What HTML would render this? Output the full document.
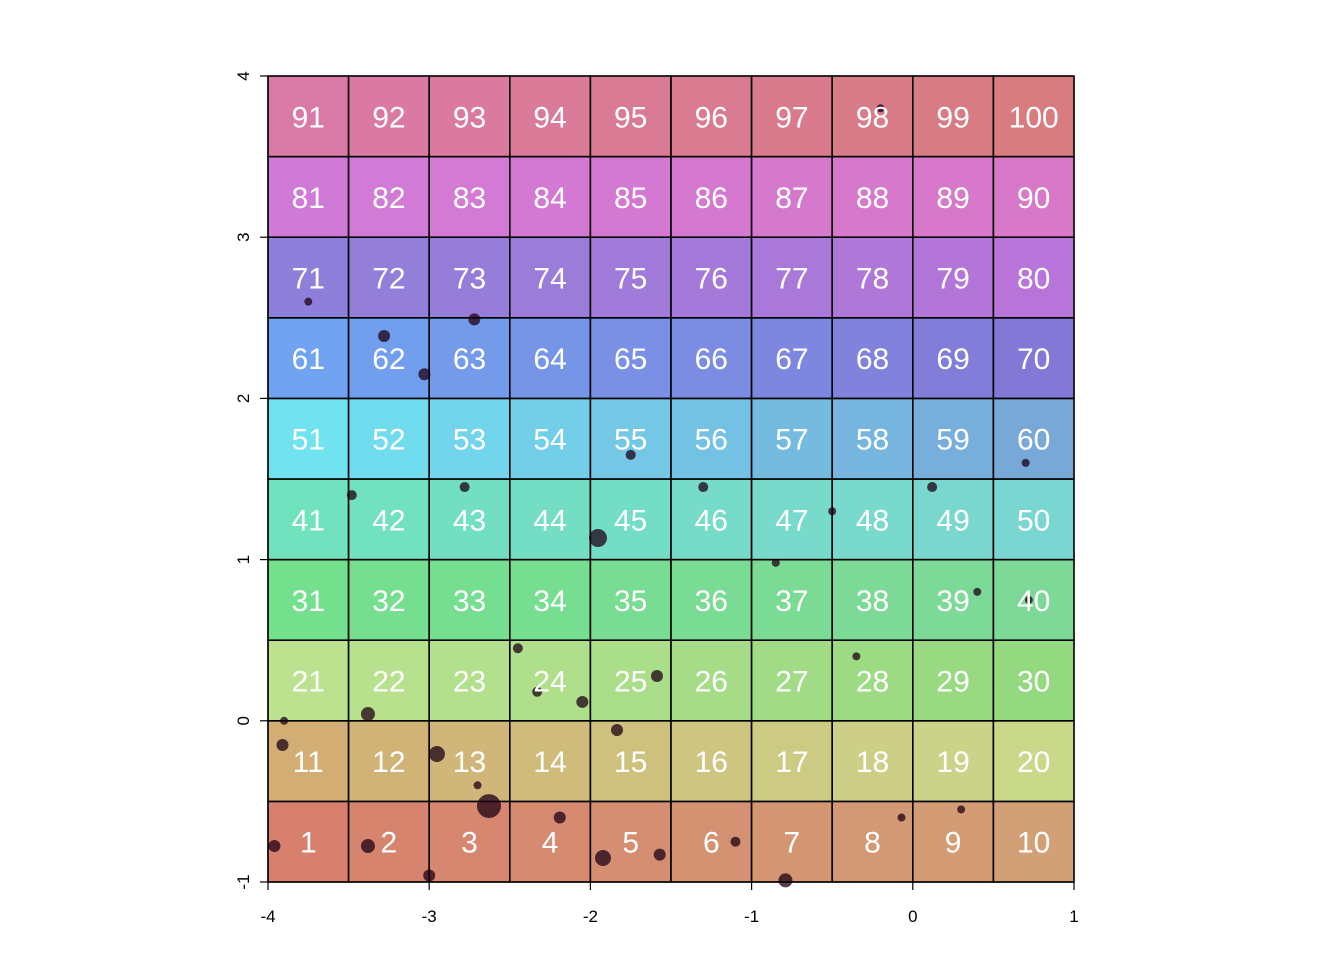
<!DOCTYPE html>
<html><head><meta charset="utf-8"><style>
body{margin:0;background:#fff;}
svg{display:block;font-family:"Liberation Sans",sans-serif;}
</style></head><body>
<svg id="chart" width="1344" height="960" viewBox="0 0 1344 960"></svg>
<script>
const rowLeft=["#d8806e","#d2ae74","#bce290","#74e08e","#70e2be","#70e2f0","#70a4f0","#8e80da","#d07ad8","#da7aa6"];
const rowRight=["#d2a076","#cad88a","#94d880","#7ed898","#7ad6d0","#78a8d8","#8478d6","#b874d8","#d878c8","#d87c80"];
const cellLabels=[];for(let i=1;i<=100;i++)cellLabels.push(i);
const dotX=[-1.953,-2.629,-2.952,-1.922,-3.38,-3.96,-3.91,-3.38,-2.05,-1.587,-1.835,-3.28,-3.03,-2.72,-1.57,-0.79,-3.0,-2.19,-2.33,-1.3,-0.5,-0.07,0.12,0.3,0.72,0.7,-1.75,-2.78,-3.48,-0.2,-3.75,-3.9,-2.7,-0.85,-0.35,-1.1,0.4,-2.45];
const dotY=[1.134,-0.529,-0.206,-0.851,-0.777,-0.777,-0.15,0.042,0.117,0.278,-0.057,2.387,2.15,2.49,-0.83,-0.99,-0.96,-0.6,0.18,1.45,1.3,-0.6,1.45,-0.55,0.75,1.6,1.65,1.45,1.4,3.8,2.6,0.0,-0.4,0.98,0.4,-0.75,0.8,0.45];
const dotR=[9,12,8,8,7,6,6,7,6,6,6,6,6,6,6,7,6,6,5,5,4,4,5,4,4,4,5,5,5,4,4,4,4,4,4,5,4,5];
const xTicks=[-4,-3,-2,-1,0,1];
const yTicks=[-1,0,1,2,3,4];
const X0=268,X1=1074,Y0=882,Y1=76;
const sx=v=>X0+(v+4)/5*(X1-X0);
const sy=v=>Y0-(v+1)/5*(Y0-Y1);
const svg=document.getElementById('chart');
const NS="http://www.w3.org/2000/svg";
function mk(t,a,p){const e=document.createElementNS(NS,t);for(const k in a)e.setAttribute(k,a[k]);(p||svg).appendChild(e);return e;}
function mix(a,b,t){const pa=[1,3,5].map(i=>parseInt(a.substr(i,2),16)),pb=[1,3,5].map(i=>parseInt(b.substr(i,2),16));return "rgb("+pa.map((v,i)=>Math.round(v+(pb[i]-v)*t)).join(",")+")";}
const cw=(X1-X0)/10,ch=(Y0-Y1)/10;
for(let r=0;r<10;r++)for(let c=0;c<10;c++){
  const e=mk('rect',{x:X0+c*cw,y:Y0-(r+1)*ch,width:cw,height:ch,fill:mix(rowLeft[r],rowRight[r],c/9),stroke:"#000","stroke-width":1.6});
  
  
}
for(let i=0;i<dotX.length;i++){
  const e=mk('circle',{cx:sx(dotX[i]),cy:sy(dotY[i]),r:dotR[i],fill:"rgba(30,0,20,0.75)"});
  
  
}
for(let r=0;r<10;r++)for(let c=0;c<10;c++){
  const t=mk('text',{x:X0+(c+0.5)*cw,y:Y0-(r+0.5)*ch+11,"text-anchor":"middle","font-size":30,fill:"#fff"});
  t.textContent=cellLabels[r*10+c];
  
  
}
mk('line',{x1:X0,y1:Y0,x2:X1,y2:Y0,stroke:"#000","stroke-width":1.2});
mk('line',{x1:X0,y1:Y0,x2:X0,y2:Y1,stroke:"#000","stroke-width":1.2});
xTicks.forEach(v=>{
  mk('line',{x1:sx(v),y1:Y0,x2:sx(v),y2:Y0+8,stroke:"#000","stroke-width":1.2});
  const t=mk('text',{x:sx(v),y:922,"text-anchor":"middle","font-size":17});
  t.textContent=v;
  
  
});
yTicks.forEach(v=>{
  mk('line',{x1:X0,y1:sy(v),x2:X0-8,y2:sy(v),stroke:"#000","stroke-width":1.2});
  const t=mk('text',{x:249,y:sy(v),"text-anchor":"middle","font-size":17,transform:"rotate(-90 249 "+sy(v)+")"});
  t.textContent=v;
  
  
});
</script>
</body></html>
